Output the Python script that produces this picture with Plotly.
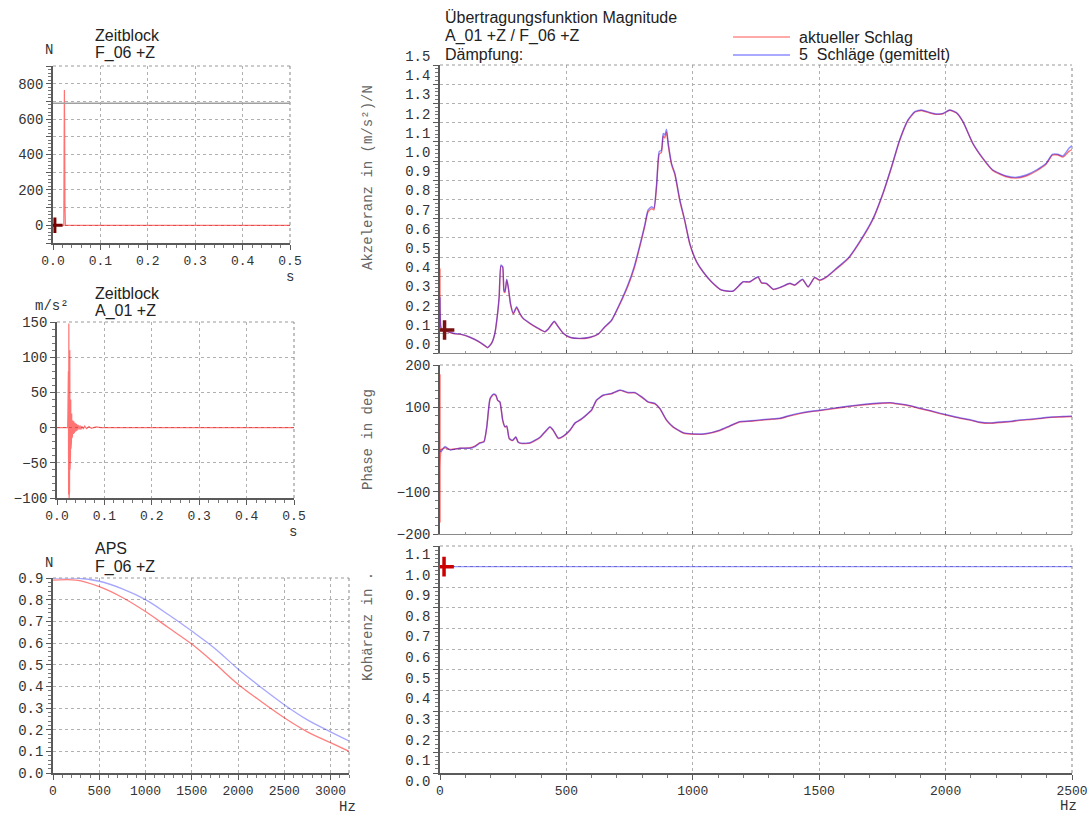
import plotly.graph_objects as go

W, H = 1089, 818

# ---------------- data ----------------
# Zeitblock F_06 +Z (force, N)
t_force = [0.0, 0.0228, 0.0234, 0.0240, 0.0246, 0.0252, 0.0262, 0.5]
force = [0, 0, 420, 765, 520, 120, 0, 0]
trigger_level = 690

# Zeitblock A_01 +Z (acceleration, m/s^2)
t_acc = [0.0, 0.0225, 0.0230, 0.0235, 0.0240, 0.0245, 0.0250, 0.0255, 0.0260, 0.0265,
         0.0270, 0.0275, 0.0280, 0.0285, 0.0290, 0.0295, 0.0300, 0.0305, 0.0310, 0.0315,
         0.0320, 0.0325, 0.0335, 0.0345, 0.0355, 0.0365, 0.0375, 0.0385, 0.0395, 0.0405,
         0.0415, 0.0425, 0.0445, 0.0465, 0.0485, 0.0505, 0.0525, 0.0555, 0.0585, 0.0625,
         0.0675, 0.0725, 0.0825, 0.0925, 0.5]
acc = [0, 0, 20, -40, 80, -95, 148, -100, 132, -90,
       110, -60, 62, -38, 40, -30, 24, -20, 20, -15,
       12, -12, 10, -9, 9, -8, 7, -6, 6, -5,
       5, -4, 4, -3, 3, -3, 2, -2, 2, -1.5,
       1.5, -1, 1, 0, 0]

# APS F_06 +Z
f_aps = [0, 250, 500, 750, 1000, 1250, 1500, 1750, 2000, 2250, 2500, 2750, 3000, 3200]
aps_cur = [0.89, 0.89, 0.86, 0.81, 0.745, 0.67, 0.595, 0.505, 0.41, 0.33, 0.255, 0.19, 0.14, 0.10]
aps_avg = [0.90, 0.90, 0.885, 0.85, 0.80, 0.73, 0.655, 0.575, 0.48, 0.395, 0.315, 0.245, 0.19, 0.148]

# Uebertragungsfunktion Magnitude, (m/s^2)/N
f_mag = [0, 4, 11, 53, 86, 119, 151, 178, 188, 204, 217, 227, 234, 241, 248, 253, 257, 264,
         270, 279, 290, 303, 316, 329, 356, 382, 415, 428, 452, 468, 488, 514, 553, 593,
         626, 652, 679, 712, 744, 768, 794, 810, 823, 837, 846, 857, 867, 876, 883, 889,
         896, 903, 916, 929, 949, 968, 988, 1015, 1041, 1074, 1114, 1159, 1199, 1225, 1258,
         1272, 1291, 1318, 1351, 1384, 1403, 1434, 1456, 1482, 1502, 1529, 1568, 1614, 1660,
         1713, 1752, 1786, 1818, 1851, 1878, 1904, 1937, 1963, 1990, 2016, 2043, 2069, 2108,
         2148, 2187, 2240, 2280, 2319, 2359, 2398, 2422, 2444, 2464, 2488, 2500]
mag_avg = [0.29, 0.13, 0.123, 0.103, 0.097, 0.082, 0.062, 0.038, 0.028, 0.05, 0.103, 0.198,
           0.293, 0.458, 0.45, 0.328, 0.32, 0.384, 0.345, 0.259, 0.207, 0.241, 0.207, 0.181,
           0.155, 0.134, 0.111, 0.125, 0.165, 0.137, 0.103, 0.082, 0.076, 0.082, 0.099, 0.137,
           0.172, 0.26, 0.358, 0.45, 0.58, 0.667, 0.745, 0.762, 0.753, 0.884, 1.049, 1.057,
           1.144, 1.135, 1.165, 1.092, 0.988, 0.936, 0.797, 0.693, 0.571, 0.476, 0.423, 0.371,
           0.328, 0.323, 0.371, 0.371, 0.397, 0.366, 0.363, 0.332, 0.345, 0.363, 0.354, 0.384,
           0.345, 0.394, 0.38, 0.397, 0.441, 0.493, 0.58, 0.701, 0.832, 0.97, 1.109, 1.214,
           1.257, 1.266, 1.253, 1.245, 1.248, 1.266, 1.252, 1.205, 1.092, 1.014, 0.953, 0.922,
           0.915, 0.927, 0.953, 0.988, 1.035, 1.035, 1.026, 1.066, 1.08]
mag_cur = [0.44, 0.13, 0.12, 0.101, 0.096, 0.081, 0.061, 0.037, 0.027, 0.051, 0.101, 0.195,
           0.29, 0.452, 0.446, 0.318, 0.315, 0.38, 0.34, 0.252, 0.203, 0.236, 0.203, 0.179,
           0.153, 0.132, 0.11, 0.124, 0.163, 0.136, 0.102, 0.081, 0.075, 0.081, 0.098, 0.135,
           0.17, 0.255, 0.35, 0.44, 0.572, 0.66, 0.735, 0.752, 0.745, 0.87, 1.035, 1.045,
           1.13, 1.12, 1.15, 1.08, 0.98, 0.93, 0.79, 0.688, 0.568, 0.474, 0.421, 0.37,
           0.327, 0.322, 0.37, 0.37, 0.395, 0.364, 0.362, 0.331, 0.344, 0.362, 0.353, 0.382,
           0.344, 0.392, 0.379, 0.395, 0.438, 0.49, 0.576, 0.697, 0.828, 0.966, 1.105, 1.21,
           1.254, 1.263, 1.25, 1.243, 1.246, 1.264, 1.25, 1.203, 1.09, 1.011, 0.95, 0.918,
           0.911, 0.922, 0.948, 0.984, 1.03, 1.031, 1.02, 1.05, 1.06]
mag_cursor = (18, 0.12)

# Phase in deg
f_phase = [0, 5, 20, 40, 79, 119, 138, 158, 174, 185, 198, 211, 221, 228, 237, 248, 257, 264,
           274, 287, 300, 309, 323, 356, 395, 415, 435, 448, 468, 488, 514, 534, 553, 573,
           586, 600, 619, 646, 679, 712, 744, 771, 797, 823, 850, 870, 896, 922, 962, 1001,
           1054, 1107, 1146, 1186, 1230, 1265, 1300, 1344, 1380, 1423, 1460, 1502, 1560, 1621,
           1680, 1739, 1780, 1818, 1860, 1897, 1940, 1977, 2020, 2056, 2100, 2134, 2180, 2214,
           2260, 2293, 2340, 2372, 2420, 2460, 2500]
phase_avg = [-3, -5, 7, -1, 3, 3, 7, 15, 18, 54, 121, 131, 129, 117, 113, 70, 54, 56,
             26, 22, 30, 18, 15, 16, 29, 42, 54, 46, 27, 32, 46, 63, 70, 79,
             86, 94, 117, 129, 133, 141, 135, 135, 125, 113, 109, 97, 70, 54, 40, 37,
             38, 46, 56, 66, 68, 70, 72, 74, 80, 86, 90, 93, 98, 103,
             107, 110, 111, 108, 104, 98, 92, 86, 80, 75, 70, 65, 63, 65,
             67, 70, 72, 74, 77, 78, 79]
phase_cur = [-172, 0, 4, 0, 3, 4, 8, 16, 19, 52, 119, 130, 128, 116, 112, 69, 53, 55,
             25, 21, 29, 17, 14, 15, 28, 41, 53, 45, 26, 31, 45, 62, 69, 78,
             85, 93, 116, 128, 132, 140, 134, 134, 124, 112, 108, 96, 69, 53, 39, 36,
             37, 45, 55, 65, 67, 69, 71, 73, 79, 85, 89, 92, 97, 102,
             106, 109, 110, 107, 103, 97, 91, 85, 79, 74, 69, 64, 62, 64,
             66, 69, 71, 73, 76, 77, 78]
phase_cur_start = 178

# Kohaerenz
f_coh = [0, 500, 1000, 1500, 2000, 2500]
coh = [1.0, 1.0, 1.0, 1.0, 1.0, 1.0]
coh_cursor = (16, 1.0)

# ---------------- styling ----------------
RED = "rgba(255,0,0,0.55)"
BLUE = "rgba(0,0,255,0.45)"
MONO = "Liberation Mono"
SANS = "Liberation Sans"


def px(x0, x1):
    return [x0 / W, x1 / W]


def py(y_top, y_bot):
    return [1 - y_bot / H, 1 - y_top / H]


fig = go.Figure()

fig.add_trace(go.Scatter(x=t_force, y=force, mode="lines", line=dict(color=RED, width=1.2),
                         xaxis="x", yaxis="y", name="F_06 +Z"))
fig.add_trace(go.Scatter(x=[0.004], y=[0], mode="markers", xaxis="x", yaxis="y",
                         marker=dict(symbol="cross-thin", size=11, line=dict(color="#7a0000", width=3))))

fig.add_trace(go.Scatter(x=t_acc, y=acc, mode="lines", line=dict(color=RED, width=1.2),
                         xaxis="x2", yaxis="y2", name="A_01 +Z"))

fig.add_trace(go.Scatter(x=f_aps, y=aps_avg, mode="lines", line=dict(color="rgba(0,0,255,0.35)", width=1.3, shape="spline"),
                         xaxis="x3", yaxis="y3", name="5 Schläge (gemittelt)"))
fig.add_trace(go.Scatter(x=f_aps, y=aps_cur, mode="lines", line=dict(color="rgba(255,0,0,0.5)", width=1.3, shape="spline"),
                         xaxis="x3", yaxis="y3", name="aktueller Schlag"))

fig.add_trace(go.Scatter(x=f_mag, y=mag_cur, mode="lines",
                         line=dict(color=RED, width=1.4, shape="spline", smoothing=0.5),
                         xaxis="x4", yaxis="y4", name="aktueller Schlag"))
fig.add_trace(go.Scatter(x=f_mag, y=mag_avg, mode="lines",
                         line=dict(color=BLUE, width=1.4, shape="spline", smoothing=0.5),
                         xaxis="x4", yaxis="y4", name="5 Schläge (gemittelt)"))
fig.add_trace(go.Scatter(x=[mag_cursor[0]], y=[mag_cursor[1]], mode="markers", xaxis="x4", yaxis="y4",
                         marker=dict(symbol="cross-thin", size=14, line=dict(color="#7a1010", width=3.5))))

fig.add_trace(go.Scatter(x=[0] + f_phase, y=[phase_cur_start] + phase_cur, mode="lines",
                         line=dict(color=RED, width=1.4, shape="spline", smoothing=0.5),
                         xaxis="x5", yaxis="y5", name="aktueller Schlag"))
fig.add_trace(go.Scatter(x=f_phase, y=phase_avg, mode="lines",
                         line=dict(color=BLUE, width=1.4, shape="spline", smoothing=0.5),
                         xaxis="x5", yaxis="y5", name="5 Schläge (gemittelt)"))

fig.add_trace(go.Scatter(x=f_coh, y=coh, mode="lines", line=dict(color="rgba(0,0,255,0.4)", width=1.4),
                         xaxis="x6", yaxis="y6", name="Kohärenz"))
fig.add_trace(go.Scatter(x=[coh_cursor[0]], y=[coh_cursor[1]], mode="markers", xaxis="x6", yaxis="y6",
                         marker=dict(symbol="cross-thin", size=14, line=dict(color="#cc0000", width=3.5))))

tickfont = dict(family=MONO, size=13, color="#333333")
ytickfont = dict(family=MONO, size=14, color="#333333")


def ax(**kw):
    base = dict(showline=True, linecolor="#5a5a5a", linewidth=1.5, ticks="outside", ticklen=5,
                tickcolor="#5a5a5a", tickwidth=1, showgrid=True, gridcolor="#b0b0b0",
                griddash="dot", gridwidth=1, zeroline=False, tickfont=tickfont, fixedrange=True,
                automargin=False)
    base.update(kw)
    return base


force_ticks = [-100, 0, 100, 200, 300, 400, 500, 600, 700, 800, 900]
force_text = ["", "0", "", "200", "", "400", "", "600", "", "800", ""]

fig.update_layout(
    width=W, height=H, margin=dict(l=0, r=0, t=0, b=0, autoexpand=False),
    paper_bgcolor="white", plot_bgcolor="white", showlegend=False,
    xaxis=ax(domain=px(53, 290), anchor="y", range=[0, 0.5], dtick=0.1, tick0=0, tickformat=".1f",
             minor=dict(dtick=0.02, ticks="outside", ticklen=3, tickcolor="#777", showgrid=False)),
    yaxis=ax(domain=py(66, 243), anchor="x", range=[-100, 900], tickmode="array",
             tickvals=force_ticks, ticktext=force_text, tickfont=ytickfont,
             minor=dict(dtick=20, ticks="outside", ticklen=3, tickcolor="#777", showgrid=False)),
    xaxis2=ax(domain=px(57, 294), anchor="y2", range=[0, 0.5], dtick=0.1, tick0=0, tickformat=".1f",
              minor=dict(dtick=0.02, ticks="outside", ticklen=3, tickcolor="#777", showgrid=False)),
    yaxis2=ax(domain=py(322, 498), anchor="x2", range=[-100, 150], dtick=50, tick0=0, tickfont=ytickfont,
              minor=dict(dtick=10, ticks="outside", ticklen=3, tickcolor="#777", showgrid=False)),
    xaxis3=ax(domain=px(53, 349), anchor="y3", range=[0, 3200], dtick=500, tick0=0,
              minor=dict(dtick=100, ticks="outside", ticklen=3, tickcolor="#777", showgrid=False)),
    yaxis3=ax(domain=py(578, 773), anchor="x3", range=[0, 0.9], dtick=0.1, tick0=0, tickformat=".1f",
              tickfont=ytickfont,
              minor=dict(dtick=0.02, ticks="outside", ticklen=3, tickcolor="#777", showgrid=False)),
    xaxis4=ax(domain=px(440, 1072), anchor="y4", range=[0, 2500], dtick=500, tick0=0,
              showticklabels=False, linecolor="#8a8a8a", linewidth=1, ticks="inside", ticklen=3,
              minor=dict(dtick=100, ticks="inside", ticklen=2, tickcolor="#999", showgrid=False)),
    yaxis4=ax(domain=py(65, 353), anchor="x4", range=[0, 1.5], tickmode="array",
              tickvals=[i / 10 for i in range(16)], tickformat=".1f", tickfont=ytickfont,
              ticklabelshift=-9,
              minor=dict(dtick=0.02, ticks="outside", ticklen=3, tickcolor="#777", showgrid=False)),
    xaxis5=ax(domain=px(440, 1072), anchor="y5", range=[0, 2500], dtick=500, tick0=0,
              showticklabels=False, linecolor="#8a8a8a", linewidth=1, ticks="inside", ticklen=3,
              minor=dict(dtick=100, ticks="inside", ticklen=2, tickcolor="#999", showgrid=False)),
    yaxis5=ax(domain=py(365, 534), anchor="x5", range=[-200, 200], dtick=100, tick0=0, tickfont=ytickfont,
              minor=dict(dtick=20, ticks="outside", ticklen=3, tickcolor="#777", showgrid=False)),
    xaxis6=ax(domain=px(440, 1072), anchor="y6", range=[0, 2500], dtick=500, tick0=0,
              minor=dict(dtick=100, ticks="outside", ticklen=3, tickcolor="#777", showgrid=False)),
    yaxis6=ax(domain=py(546, 773), anchor="x6", range=[0, 1.1], tickmode="array",
              tickvals=[i / 10 for i in range(12)], tickformat=".1f", tickfont=ytickfont,
              ticklabelshift=8,
              minor=dict(dtick=0.02, ticks="outside", ticklen=3, tickcolor="#777", showgrid=False)),
)

shapes = []
# dotted top/right frame edges of every panel
for xa, ya in [("x", "y"), ("x2", "y2"), ("x3", "y3"), ("x4", "y4"), ("x5", "y5"), ("x6", "y6")]:
    ref_x, ref_y = xa + " domain", ya + " domain"
    shapes.append(dict(type="line", xref=ref_x, yref=ref_y, x0=0, x1=1, y0=1, y1=1,
                       line=dict(color="#9a9a9a", width=1.2, dash="dot")))
    shapes.append(dict(type="line", xref=ref_x, yref=ref_y, x0=1, x1=1, y0=0, y1=1,
                       line=dict(color="#9a9a9a", width=1.2, dash="dot")))
# trigger level in the force block
shapes.append(dict(type="line", xref="x domain", yref="y", x0=0, x1=1, y0=trigger_level, y1=trigger_level,
                   line=dict(color="#a0a0a0", width=1.5)))
# legend line samples
shapes.append(dict(type="line", xref="paper", yref="paper", x0=733 / W, x1=790 / W, y0=1 - 37 / H, y1=1 - 37 / H,
                   line=dict(color="rgba(255,0,0,0.45)", width=1.5)))
shapes.append(dict(type="line", xref="paper", yref="paper", x0=733 / W, x1=790 / W, y0=1 - 55 / H, y1=1 - 55 / H,
                   line=dict(color="rgba(0,0,255,0.45)", width=1.5)))
fig.update_layout(shapes=shapes)

annotations = []


def text(s, x, y, family=SANS, size=16, color="#222222", xanchor="left", angle=0):
    annotations.append(dict(text=s, x=x / W, y=1 - y / H, xref="paper", yref="paper",
                            xanchor=xanchor, yanchor="middle", showarrow=False, textangle=angle,
                            font=dict(family=family, size=size, color=color)))


# panel titles
text("Zeitblock", 93, 36)
text("F_06 +Z", 93, 53)
text("Zeitblock", 93, 293)
text("A_01 +Z", 93, 311)
text("APS", 93, 548)
text("F_06 +Z", 93, 567)
text("Übertragungsfunktion Magnitude", 443, 17)
text("A_01 +Z / F_06 +Z", 443, 36)
text("Dämpfung:", 443, 55)
text("aktueller Schlag", 797, 37)
text("5\u00a0 Schläge (gemittelt)", 797, 55)

# units
text("N", 49, 50, family=MONO, size=14, color="#333333", xanchor="center")
text("m/s²", 33, 306, family=MONO, size=14, color="#333333")
text("N", 49, 563, family=MONO, size=14, color="#333333", xanchor="center")
text("s", 290, 277, family=MONO, size=14, color="#333333", xanchor="center")
text("s", 293, 532, family=MONO, size=14, color="#333333", xanchor="center")
text("Hz", 347, 807, family=MONO, size=14, color="#333333", xanchor="center")
text("Hz", 1068, 806, family=MONO, size=14, color="#333333", xanchor="center")

# rotated axis titles
text("Akzeleranz in (m/s²)/N", 368, 178, family=MONO, size=14, color="#666666", xanchor="center", angle=-90)
text("Phase in deg", 368, 440, family=MONO, size=14, color="#666666", xanchor="center", angle=-90)
text("Kohärenz in .", 368, 627, family=MONO, size=14, color="#666666", xanchor="center", angle=-90)

fig.update_layout(annotations=annotations)

fig.write_html("out.html")
